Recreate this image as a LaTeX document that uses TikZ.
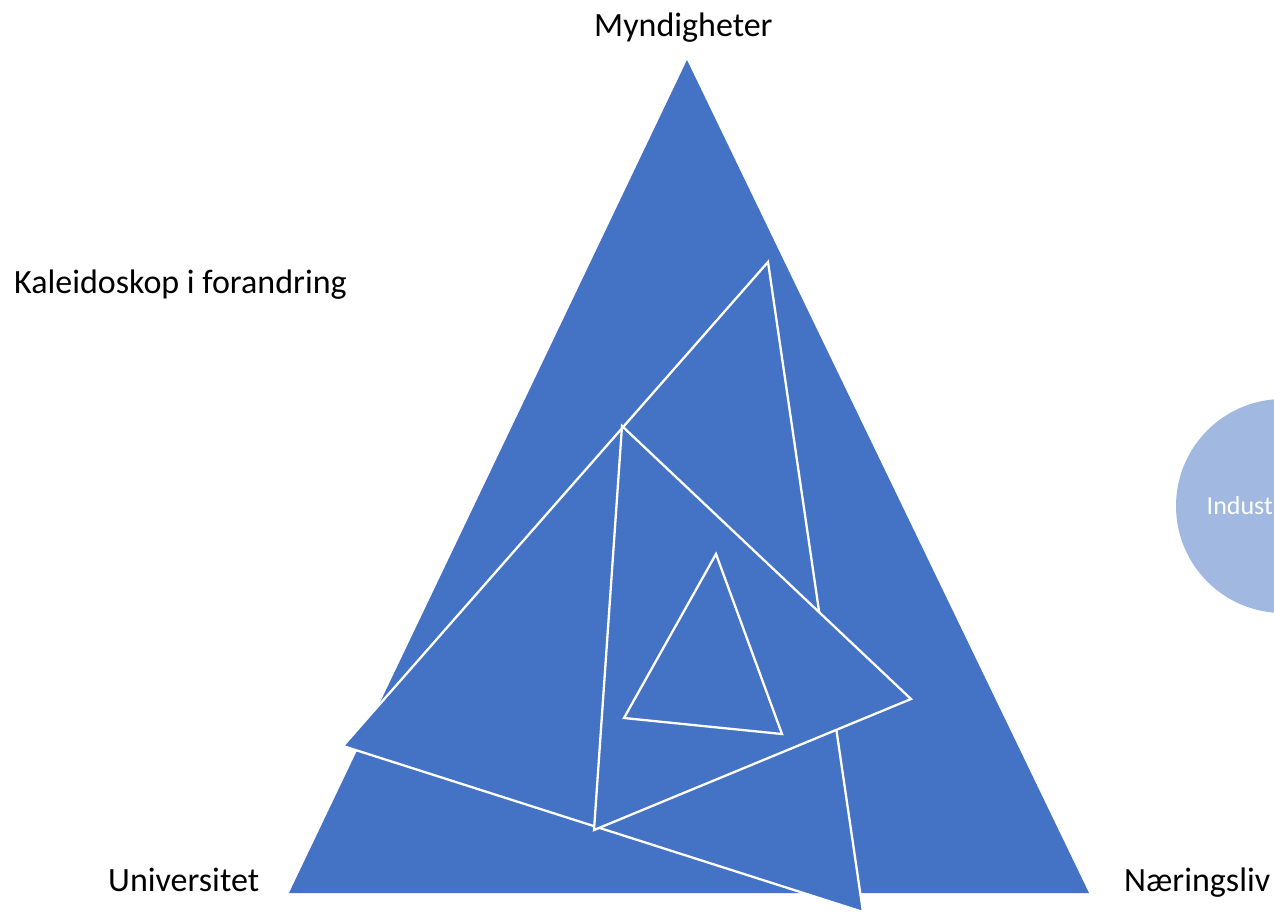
\documentclass[tikz,border=0pt]{standalone}
\usepackage{fontspec}
\setmainfont{Carlito}
\definecolor{officeblue}{HTML}{4472C4}
\definecolor{lightblue}{HTML}{A1B9E1}
\tikzset{
  facet/.style={fill=officeblue, draw=white, line width=2.3pt, line join=miter},
  label/.style={inner sep=0pt, anchor=base west, font=\fontsize{34}{41}\selectfont},
}
\begin{document}
\begin{tikzpicture}[x=1pt, y=-1pt]
\useasboundingbox (0,0) rectangle (1274,914);
% outer triangle
\coordinate (top) at (687,60);
\coordinate (bl) at (289,893);
\coordinate (br) at (1089,893);
\fill[officeblue] (top) -- (bl) -- (br) -- cycle;
% rotated inner triangles
\coordinate (a1) at (768,262);
\coordinate (a2) at (343,746);
\coordinate (a3) at (863,912);
\draw[facet] (a1) -- (a2) -- (a3) -- cycle;
\coordinate (b1) at (622,426);
\coordinate (b2) at (911,699);
\coordinate (b3) at (594,830);
\draw[facet] (b1) -- (b2) -- (b3) -- cycle;
\coordinate (c1) at (716,554);
\coordinate (c2) at (624,718);
\coordinate (c3) at (782,734);
\draw[facet] (c1) -- (c2) -- (c3) -- cycle;
% labels
\node[label] (myn) at (594,36) {Myndigheter};
\node[label] (kal) at (14,293) {Kaleidoskop i forandring};
\node[label] (uni) at (108,891) {Universitet};
\node[label] (nae) at (1124,891) {Næringsliv};
% circle cut by the right edge
\begin{scope}
\clip (0,0) rectangle (1274,914);
\fill[lightblue] (1283,506) circle (107);
\end{scope}
\node[inner sep=0pt, anchor=base east, text=white, font=\fontsize{26}{31}\selectfont] (ind) at (1273,514) {Indust};
\end{tikzpicture}
\end{document}
